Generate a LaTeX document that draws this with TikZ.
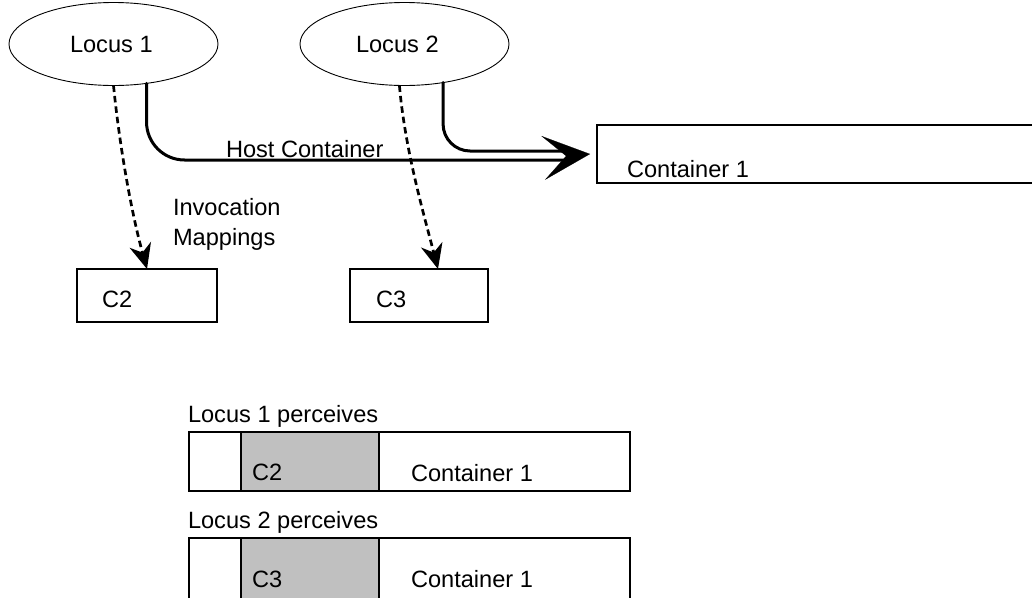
\documentclass[tikz,border=0pt]{standalone}
\usepackage{fontspec}
\setmainfont{Liberation Sans}
\usetikzlibrary{arrows.meta,shapes.geometric,calc}
\definecolor{shade}{HTML}{C0C0C0}
\begin{document}
\begin{tikzpicture}[x=1pt,y=-1pt,
  every node/.style={font=\fontsize{23.6}{28}\selectfont, inner sep=0pt, outer sep=0pt},
  locus/.style={draw, ellipse, line width=0.9pt, minimum width=209pt, minimum height=83pt},
  box/.style={draw, line width=1.2pt, rectangle, anchor=north west},
  lbl/.style={anchor=base west},
  host/.style={line width=3pt, line cap=round},
  invoke/.style={line width=2.7pt, dash pattern=on 6.5pt off 4pt, -{Stealth[length=25pt,width=22pt,inset=8pt]}},
]
\useasboundingbox (0,0) rectangle (1032,597);

% loci
\node[locus] (l1) at (113.5,44) {};
\node[lbl] (l1t) at (70,52.5) {Locus 1};
\node[locus] (l2) at (404.5,44) {};
\node[lbl] (l2t) at (356,52.5) {Locus 2};

% boxes
\node[box, minimum width=140pt, minimum height=53pt] (c2) at (77,269) {};
\node[lbl] (c2t) at (102,307) {C2};
\node[box, minimum width=138pt, minimum height=53pt] (c3) at (350,269) {};
\node[lbl] (c3t) at (376,307) {C3};
\node[box, minimum width=460pt, minimum height=58pt] (cont) at (597,125) {};
\node[lbl] (contt) at (627,177) {Container 1};

% host container connectors
\coordinate (h1end) at (565,160);
\coordinate (h2end) at (565,151);
\coordinate (hback) at (566,156);
\draw[host, rounded corners=38pt] (l1.-50) |- (h1end);
\draw[host, rounded corners=27pt] (l2.-45) |- (h2end);
\draw[line width=0.2pt, -{Stealth[length=47pt,width=44pt,inset=23pt]}] (hback) -- ([xshift=-7pt]cont.west);
\node[lbl] (hostt) at (226,157) {Host Container};

% invocation mappings
\draw[invoke] (l1.south) .. controls (120,150) and (132,215) .. (c2.north);
\draw[invoke] (l2.-97.5) .. controls (405,150) and (424,215) .. ([xshift=19pt]c3.north);
\node[lbl] (inv1) at (173,215) {Invocation};
\node[lbl] (inv2) at (173,245) {Mappings};

% perceptions
\node[lbl] (p1t) at (188,422) {Locus 1 perceives};
\node[box, minimum width=441pt, minimum height=59pt] (p1) at (189,432) {};
\node[box, fill=shade, minimum width=138pt, minimum height=59pt] (p1c) at (241,432) {};
\node[lbl] (p1ct) at (252,480) {C2};
\node[lbl] (p1kt) at (411,481) {Container 1};

\node[lbl] (p2t) at (188,528) {Locus 2 perceives};
\node[box, minimum width=441pt, minimum height=80pt] (p2) at (189,538) {};
\node[box, fill=shade, minimum width=138pt, minimum height=80pt] (p2c) at (241,538) {};
\node[lbl] (p2ct) at (252,587) {C3};
\node[lbl] (p2kt) at (411,587) {Container 1};
\end{tikzpicture}
\end{document}
